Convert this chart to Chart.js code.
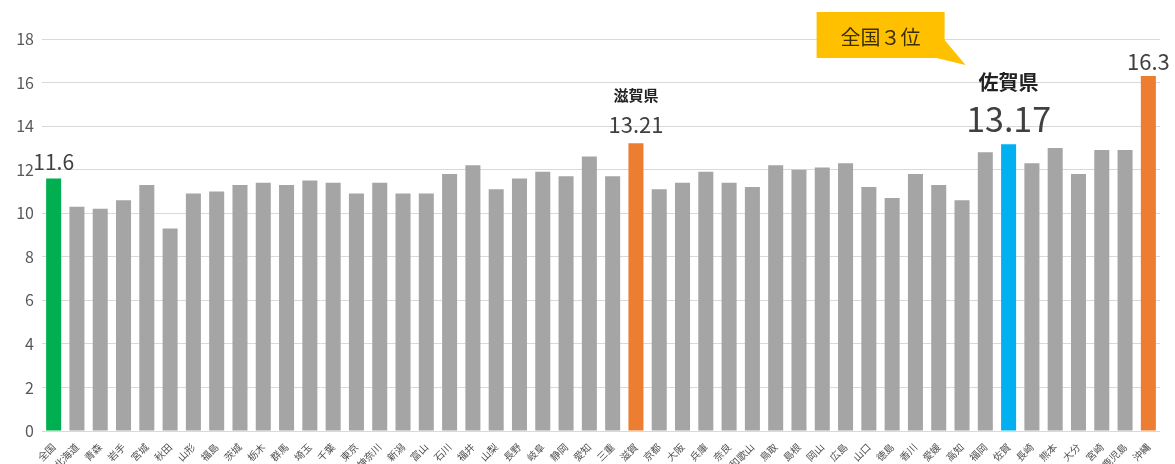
<!DOCTYPE html>
<html lang="ja">
<head>
<meta charset="utf-8">
<script src="https://cdn.jsdelivr.net/npm/chart.js@4/dist/chart.umd.min.js"></script>
<style>
  html, body { margin: 0; padding: 0; background: #fff; overflow: hidden; }
  canvas { display: block; }
</style>
</head>
<body>
<canvas id="chart" width="1175" height="464"></canvas>
<script>
var prefectures = [
    "全国", "北海道", "青森", "岩手", "宮城", "秋田", "山形", "福島",
    "茨城", "栃木", "群馬", "埼玉", "千葉", "東京", "神奈川", "新潟",
    "富山", "石川", "福井", "山梨", "長野", "岐阜", "静岡", "愛知",
    "三重", "滋賀", "京都", "大阪", "兵庫", "奈良", "和歌山", "鳥取",
    "島根", "岡山", "広島", "山口", "徳島", "香川", "愛媛", "高知",
    "福岡", "佐賀", "長崎", "熊本", "大分", "宮崎", "鹿児島", "沖縄"
];
var values = [
    11.6, 10.3, 10.2, 10.6, 11.3, 9.3, 10.9, 11.0,
    11.3, 11.4, 11.3, 11.5, 11.4, 10.9, 11.4, 10.9,
    10.9, 11.8, 12.2, 11.1, 11.6, 11.9, 11.7, 12.6,
    11.7, 13.21, 11.1, 11.4, 11.9, 11.4, 11.2, 12.2,
    12.0, 12.1, 12.3, 11.2, 10.7, 11.8, 11.3, 10.6,
    12.8, 13.17, 12.3, 13.0, 11.8, 12.9, 12.9, 16.3
];
var yTicks = [0, 2, 4, 6, 8, 10, 12, 14, 16, 18];

var FONT = "'Noto Sans CJK JP', 'Noto Sans', sans-serif";

// special bars: national average, Shiga, Saga, Okinawa
var highlight = { "全国": "#00b050", "滋賀": "#ed7d31", "佐賀": "#00b0f0", "沖縄": "#ed7d31" };
var barColors = prefectures.map(function(p) { return highlight[p] || "#a5a5a5"; });

// text drawn above selected bars (gap = space between bar top and value baseline)
var notes = [
    { name: "全国", size: 21, gap: 8 },
    { name: "滋賀", title: "滋賀県", titleSize: 15, size: 22, gap: 10, titleGap: 10 },
    { name: "佐賀", title: "佐賀県", titleSize: 20, size: 34, gap: 12, titleGap: 8 },
    { name: "沖縄", size: 22, gap: 6 }
];

var notePlugin = {
    id: "notes",
    afterDatasetsDraw: function(chart) {
        var ctx = chart.ctx;
        var bars = chart.getDatasetMeta(0).data;
        ctx.save();
        ctx.textAlign = "center";
        ctx.textBaseline = "alphabetic";
        notes.forEach(function(n) {
            var i = prefectures.indexOf(n.name);
            var bar = bars[i];
            var valueY = bar.y - n.gap;
            ctx.fillStyle = "#404040";
            ctx.font = n.size + "px " + FONT;
            ctx.fillText(String(values[i]), bar.x, valueY);
            if (n.title) {
                ctx.fillStyle = "#222";
                ctx.font = "bold " + n.titleSize + "px " + FONT;
                ctx.fillText(n.title, bar.x, valueY - n.size - n.titleGap);
            }
        });

        // rank callout pointing at Saga
        var saga = bars[prefectures.indexOf("佐賀")];
        var bx = saga.x;
        var left = bx - 192, right = bx - 64, top = 12, bottom = 58;
        ctx.fillStyle = "#ffc000";
        ctx.beginPath();
        ctx.moveTo(left, top);
        ctx.lineTo(right, top);
        ctx.lineTo(right, 40);
        ctx.lineTo(bx - 43, 65);
        ctx.lineTo(right - 8, bottom);
        ctx.lineTo(left, bottom);
        ctx.closePath();
        ctx.fill();
        ctx.fillStyle = "#3a2e00";
        ctx.font = "20px " + FONT;
        ctx.textBaseline = "middle";
        ctx.fillText("全国３位", (left + right) / 2, 37);
        ctx.restore();
    }
};

var ctx = document.getElementById("chart").getContext("2d");
var chart = new Chart(ctx, {
    type: "bar",
    data: {
        labels: prefectures,
        datasets: [{
            data: values,
            backgroundColor: barColors,
            categoryPercentage: 1,
            barPercentage: 0.645
        }]
    },
    options: {
        responsive: false,
        animation: false,
        devicePixelRatio: 1,
        layout: { padding: { top: 39, right: 15, left: 0, bottom: 0 } },
        plugins: {
            legend: { display: false },
            tooltip: { enabled: false }
        },
        scales: {
            x: {
                grid: { display: false },
                border: { display: false },
                ticks: {
                    color: "#505050",
                    font: { family: FONT, size: 10 },
                    minRotation: 45,
                    maxRotation: 45,
                    autoSkip: false,
                    padding: 2
                },
                afterFit: function(s) { s.height = 33; }
            },
            y: {
                min: 0,
                max: 18,
                afterBuildTicks: function(s) {
                    s.ticks = yTicks.map(function(v) { return { value: v }; });
                },
                grid: { color: "#d9d9d9", drawTicks: false },
                border: { display: false },
                ticks: {
                    color: "#595959",
                    font: { family: FONT, size: 16 },
                    padding: 8
                },
                afterFit: function(s) { s.width = 42; }
            }
        }
    },
    plugins: [notePlugin]
});
</script>
</body>
</html>
